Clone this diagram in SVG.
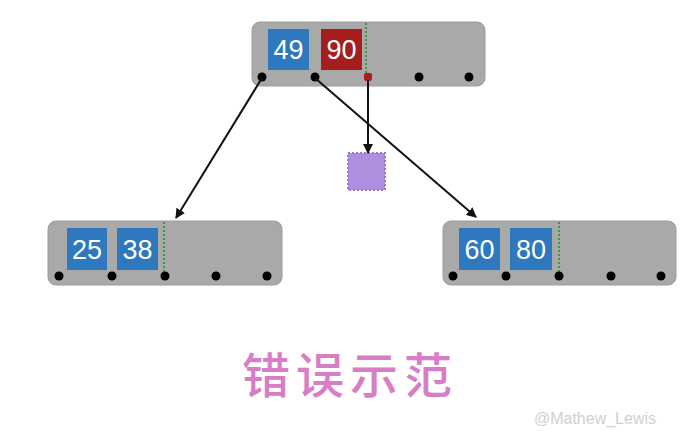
<svg xmlns="http://www.w3.org/2000/svg" width="690" height="439" viewBox="0 0 690 439">
<defs>
<style>
.node{fill:#a9a9a9;stroke:#9c9c9c;stroke-width:1}
.blue{fill:#2e78bd}
.red{fill:#a51e1e}
.key{font-family:"Liberation Sans",Arial,sans-serif;font-size:27px;fill:#fff;text-anchor:middle}
.dot{fill:#000}
.sep{stroke:#3a9a3a;stroke-width:2;stroke-dasharray:2,2}
.edge{stroke:#111;stroke-width:2;fill:none;marker-end:url(#arr)}
</style>
<marker id="arr" viewBox="0 0 10 10" refX="9" refY="5" markerWidth="5" markerHeight="5" orient="auto">
<path d="M0,0 L10,5 L0,10 z" fill="#111"/>
</marker>
</defs>
<rect width="690" height="439" fill="#fff"/>
<g id="root">
<rect class="node" x="252" y="22" width="233" height="64" rx="8"/>
<rect class="blue" x="268" y="29" width="41" height="41"/>
<text class="key" x="288.5" y="59">49</text>
<rect class="red" x="321" y="29" width="41" height="41"/>
<text class="key" x="341.5" y="59">90</text>
<line class="sep" x1="366" y1="23" x2="366" y2="75"/>
<circle class="dot" cx="262" cy="77" r="4.5"/>
<circle class="dot" cx="315" cy="77" r="4.5"/>
<rect x="364" y="73" width="8" height="8" rx="2" fill="#b01c1c"/>
<circle class="dot" cx="419" cy="77" r="4.5"/>
<circle class="dot" cx="469" cy="77" r="4.5"/>
</g>
<g id="left">
<rect class="node" x="48" y="221" width="234" height="64" rx="8"/>
<rect class="blue" x="67" y="228" width="40" height="42"/>
<text class="key" x="87" y="259">25</text>
<rect class="blue" x="117" y="228" width="41" height="42"/>
<text class="key" x="137.5" y="259">38</text>
<line class="sep" x1="164" y1="222" x2="164" y2="274"/>
<circle class="dot" cx="59" cy="276" r="4.5"/>
<circle class="dot" cx="112" cy="276" r="4.5"/>
<circle class="dot" cx="165" cy="276" r="4.5"/>
<circle class="dot" cx="216" cy="276" r="4.5"/>
<circle class="dot" cx="267" cy="276" r="4.5"/>
</g>
<g id="right">
<rect class="node" x="443" y="221" width="233" height="64" rx="8"/>
<rect class="blue" x="459" y="228" width="41" height="42"/>
<text class="key" x="479.5" y="259">60</text>
<rect class="blue" x="510" y="228" width="42" height="42"/>
<text class="key" x="531" y="259">80</text>
<line class="sep" x1="559" y1="222" x2="559" y2="274"/>
<circle class="dot" cx="453" cy="276" r="4.5"/>
<circle class="dot" cx="506" cy="276" r="4.5"/>
<circle class="dot" cx="559" cy="276" r="4.5"/>
<circle class="dot" cx="611" cy="276" r="4.5"/>
<circle class="dot" cx="661" cy="276" r="4.5"/>
</g>
<g id="new">
<rect x="348" y="153" width="37" height="37" fill="#ad8fe0" stroke="#9a78d0" stroke-width="2" stroke-dasharray="2,2"/>
</g>
<g id="connectors">
<line class="edge" x1="262" y1="78" x2="176" y2="218"/>
<line class="edge" x1="315" y1="78" x2="476" y2="217"/>
<line class="edge" x1="368" y1="80" x2="368" y2="153"/>
</g>
<text x="350" y="393" font-family="'Noto Sans CJK SC',sans-serif" font-size="48" font-weight="500" fill="#d77fc6" text-anchor="middle" letter-spacing="6">错误示范</text>
<text x="595" y="424" font-family="'Liberation Sans',Arial,sans-serif" font-size="16" fill="#cfcfcf" text-anchor="middle">@Mathew_Lewis</text>
</svg>
